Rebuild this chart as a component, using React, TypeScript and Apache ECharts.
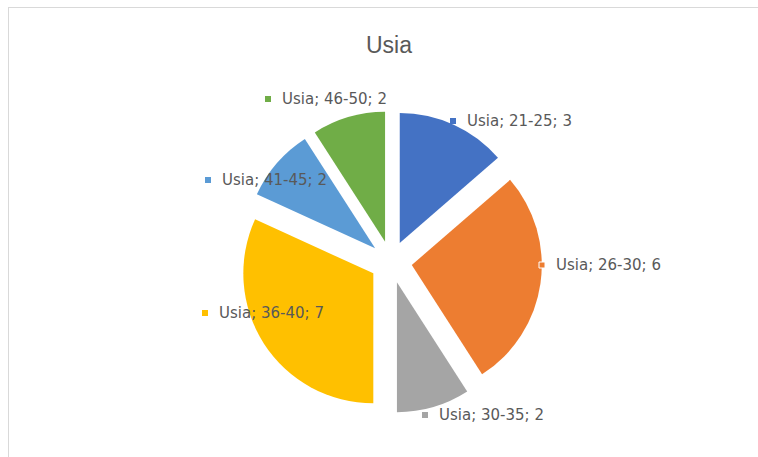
import React, { useEffect, useRef } from "react";
import * as echarts from "echarts";

const categories = ["21-25", "26-30", "30-35", "36-40", "41-45", "46-50"];
const values = [3, 6, 2, 7, 2, 2];
const seriesName = "Usia";
const colors = ["#4472C4", "#ED7D31", "#A5A5A5", "#FFC000", "#5B9BD5", "#70AD47"];
// label anchor positions (left edge of marker, vertical middle)
const labelPos: [number, number][] = [
  [450, 121],
  [539, 265],
  [422, 415],
  [202, 313],
  [205, 180],
  [265, 99],
];

export default function App() {
  const ref = useRef<HTMLDivElement>(null);
  useEffect(() => {
    if (!ref.current) return;
    const chart = echarts.init(ref.current, null, { renderer: "svg" });
    const data = categories.map((c, i) => ({
      name: c,
      value: values[i],
      selected: true,
      itemStyle: { color: colors[i] },
    }));
    const labelGraphics: any[] = [];
    categories.forEach((c, i) => {
      const [x, y] = labelPos[i];
      labelGraphics.push({
        type: "rect",
        shape: { x: x, y: y - 3, width: 6, height: 6 },
        style: {
          fill: colors[i],
          stroke: i === 1 ? "#ffffff" : null,
          lineWidth: i === 1 ? 1 : 0,
        },
        z: 10,
      });
      labelGraphics.push({
        type: "text",
        x: x + 17,
        y: y,
        style: {
          text: `${seriesName}; ${c}; ${values[i]}`,
          fontFamily: "DejaVu Sans",
          fontSize: 15,
          fill: "#595959",
          verticalAlign: "middle",
          align: "left",
        },
        z: 10,
      });
    });
    chart.setOption({
      animation: false,
      backgroundColor: "#ffffff",
      title: {
        text: seriesName,
        left: 384,
        top: 28,
        textAlign: "center",
        textStyle: {
          fontFamily: "Liberation Sans",
          fontSize: 23,
          fontWeight: "normal",
          color: "#595959",
        },
      },
      graphic: [
        {
          type: "line",
          shape: { x1: 8, y1: 7.5, x2: 758, y2: 7.5 },
          style: { stroke: "#d9d9d9", lineWidth: 1 },
        },
        {
          type: "line",
          shape: { x1: 8.5, y1: 7, x2: 8.5, y2: 457 },
          style: { stroke: "#d9d9d9", lineWidth: 1 },
        },
        ...labelGraphics,
      ],
      series: [
        {
          type: "pie",
          name: seriesName,
          center: [391, 262],
          radius: 130,
          startAngle: 90,
          clockwise: true,
          selectedMode: "multiple",
          selectedOffset: 21,
          avoidLabelOverlap: false,
          itemStyle: { borderWidth: 0 },
          select: { itemStyle: { borderWidth: 0 } },
          emphasis: { disabled: true },
          labelLine: { show: false },
          label: { show: false },
          data,
        },
      ],
    });
    return () => chart.dispose();
  }, []);
  return (
    <div
      ref={ref}
      style={{ position: "fixed", left: 0, top: 0, width: 758, height: 457 }}
    />
  );
}
